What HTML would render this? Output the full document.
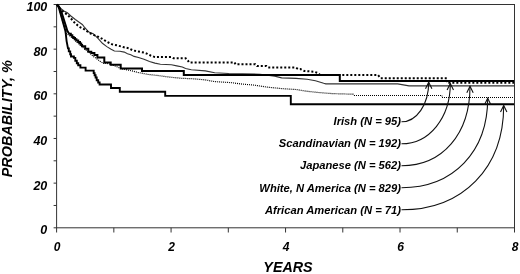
<!DOCTYPE html>
<html><head><meta charset="utf-8"><style>
html,body{margin:0;padding:0;background:#fff;}
svg{display:block;will-change:transform;}
text{font-family:"Liberation Sans",sans-serif;font-weight:bold;font-style:italic;fill:#000;}
</style></head><body>
<svg width="520" height="274" viewBox="0 0 520 274">
<rect x="0" y="0" width="520" height="274" fill="#fff"/>
<g stroke="#333" stroke-width="1" fill="none">
<rect x="56.6" y="4.5" width="457.9" height="223.3"/>
<line x1="53.6" y1="227.80" x2="56.6" y2="227.80"/><line x1="53.6" y1="205.47" x2="56.6" y2="205.47"/><line x1="53.6" y1="183.14" x2="56.6" y2="183.14"/><line x1="53.6" y1="160.81" x2="56.6" y2="160.81"/><line x1="53.6" y1="138.48" x2="56.6" y2="138.48"/><line x1="53.6" y1="116.15" x2="56.6" y2="116.15"/><line x1="53.6" y1="93.82" x2="56.6" y2="93.82"/><line x1="53.6" y1="71.49" x2="56.6" y2="71.49"/><line x1="53.6" y1="49.16" x2="56.6" y2="49.16"/><line x1="53.6" y1="26.83" x2="56.6" y2="26.83"/><line x1="53.6" y1="4.50" x2="56.6" y2="4.50"/><line x1="56.60" y1="227.8" x2="56.60" y2="232.5"/><line x1="113.84" y1="227.8" x2="113.84" y2="232.5"/><line x1="171.07" y1="227.8" x2="171.07" y2="232.5"/><line x1="228.31" y1="227.8" x2="228.31" y2="232.5"/><line x1="285.55" y1="227.8" x2="285.55" y2="232.5"/><line x1="342.79" y1="227.8" x2="342.79" y2="232.5"/><line x1="400.02" y1="227.8" x2="400.02" y2="232.5"/><line x1="457.26" y1="227.8" x2="457.26" y2="232.5"/><line x1="514.50" y1="227.8" x2="514.50" y2="232.5"/>
</g>
<g fill="none" stroke-linejoin="miter">
<polyline points="57.00,4.50 59.00,8.00 61.00,15.00 63.00,22.00 65.00,29.00 66.50,33.50 69.00,35.30 72.00,37.50 76.00,41.50 80.00,45.00 84.00,48.50 88.00,51.50 93.40,56.40 95.00,57.50 100.00,61.20 103.80,63.50 107.00,63.30 110.50,64.30 114.00,65.60 118.90,67.60 122.00,68.90 126.00,69.60 129.70,70.40 138.00,72.40 147.60,74.40 157.20,75.40 166.80,76.80 176.50,77.80 182.00,78.30 193.70,78.80 205.30,79.90 214.70,81.60 231.00,82.60 242.00,84.10 253.90,85.10 267.70,87.20 281.60,88.60 296.00,89.50 305.70,91.10 318.20,92.50 332.10,93.60 353.00,94.20 354.00,95.50" stroke="#000" stroke-width="1.2" stroke-dasharray="1 1"/>
<path d="M354,95.5 H442 M442,95.5 V97.5 M442,97.5 H514" stroke="#000" stroke-width="1" stroke-dasharray="1 1"/>
<polyline points="57.00,4.50 58.50,6.00 60.40,8.20 63.90,11.00 67.40,12.80 70.90,16.00 75.30,19.50 78.80,22.00 82.30,24.50 84.40,27.10 88.80,32.10 93.20,33.70 98.00,38.40 102.40,43.30 106.80,46.60 111.10,49.30 114.40,51.00 119.90,51.30 124.30,52.10 127.50,53.70 130.80,54.80 134.10,56.40 138.50,57.50 144.00,59.30 149.50,61.50 154.90,63.10 160.40,64.20 171.40,64.80 176.80,65.90 182.30,67.00 185.60,68.60 191.30,69.80 205.30,70.90 214.70,72.70 228.70,73.50 260.00,74.20 274.70,76.10 281.60,77.90 296.00,78.40 307.10,79.30 315.40,80.70 323.70,83.30 325.80,83.90 397.70,83.90 409.00,85.90 514.00,85.90" stroke="#333" stroke-width="1.1"/>
<polyline points="57.00,4.50 58.80,7.50 60.60,14.00 62.60,21.00 64.30,27.00 65.40,31.00 65.80,33.80 66.60,41.10 68.00,48.40 68.80,48.40 68.80,51.40 70.20,51.40 70.20,54.30 71.00,54.30 71.00,56.50 73.90,56.50 73.90,57.90 75.30,57.90 75.30,60.80 76.80,60.80 76.80,63.20 78.20,63.20 78.20,65.30 80.40,65.30 80.40,67.60 85.60,67.60 85.60,70.60 92.60,70.60 92.60,70.60 93.70,70.60 93.70,73.10 94.60,73.10 94.60,75.30 95.60,75.30 95.60,77.50 96.70,77.50 96.70,80.30 98.20,80.30 98.20,82.50 99.60,82.50 99.60,84.50 111.00,84.50 111.00,88.00 119.80,88.00 119.80,91.80 165.20,91.80 165.20,95.90 290.80,95.90 290.80,104.20 514.00,104.20 514.00,104.20" stroke="#000" stroke-width="1.9"/>
<polyline points="57.00,4.50 59.00,6.50 61.80,13.00 64.30,21.00 66.20,27.00 67.20,30.50 68.20,32.30 69.30,33.80 70.80,33.80 70.80,35.30 72.30,35.30 72.30,36.90 73.70,36.90 73.70,38.10 75.00,38.10 75.00,39.20 76.40,39.20 76.40,40.40 78.20,40.40 78.20,41.90 80.00,41.90 80.00,43.50 81.20,43.50 81.20,45.00 82.10,45.00 82.10,46.20 85.20,46.20 85.20,48.80 88.30,48.80 88.30,51.80 91.30,51.80 91.30,52.90 94.40,52.90 94.40,54.90 97.40,54.90 97.40,57.60 104.30,57.60 104.30,62.40 110.70,62.40 110.70,64.80 120.70,64.80 120.70,68.40 142.00,68.40 142.00,70.90 183.80,70.90 183.80,75.00 339.80,75.00 339.80,81.00 514.00,81.00 514.00,81.00" stroke="#000" stroke-width="2"/>
<polyline points="57.00,4.50 61.00,10.00 64.00,12.50 67.10,14.50 70.30,17.70 74.20,22.20 77.90,25.60 80.00,27.10 84.40,29.30 88.80,32.60 93.20,34.80 98.00,36.70 102.40,38.90 106.80,41.70 112.20,44.40 117.70,45.50 123.20,47.10 128.60,48.20 133.00,50.40 138.50,51.50 144.00,52.60 147.30,53.80 150.60,55.50 154.90,57.10 171.40,57.10 173.50,58.20 185.60,58.20 187.80,60.40 189.00,62.40 234.50,62.40 235.50,64.30 255.30,64.30 257.00,66.00 266.40,66.00 268.00,67.40 295.50,67.40 298.30,69.00 300.20,69.00 304.30,71.00 314.00,71.70 318.20,73.10 320.00,75.00 378.00,75.00 380.50,78.20 446.80,78.20 447.00,82.80 514.00,82.80" stroke="#000" stroke-width="2" stroke-dasharray="2 2"/>
</g>
<g fill="none" stroke="#111" stroke-width="1.1">
<path d="M401.5,121.8 C416.73,121.8 428.7,104.38 428.7,82.2"/><path d="M425.5,88.7 L428.7,82.2 L431.9,88.7"/><path d="M401.5,143.8 C429.32,143.8 450.3,117.91 450.3,83.6"/><path d="M447.1,90.1 L450.3,83.6 L453.5,90.1"/><path d="M401.5,165.8 C442.60,165.8 470,134.00 470,86.3"/><path d="M466.8,92.8 L470,86.3 L473.2,92.8"/><path d="M401.5,187.7 C453.22,187.7 487.7,151.94 487.7,98.3"/><path d="M484.5,104.8 L487.7,98.3 L490.9,104.8"/><path d="M401.5,209.8 C462.82,209.8 503.7,168.04 503.7,105.4"/><path d="M500.5,111.9 L503.7,105.4 L506.9,111.9"/>
</g>
<g font-size="12">
<text x="47.3" font-size="12.5" y="234.40" text-anchor="end">0</text><text x="47.3" font-size="12.5" y="189.74" text-anchor="end">20</text><text x="47.3" font-size="12.5" y="145.08" text-anchor="end">40</text><text x="47.3" font-size="12.5" y="100.42" text-anchor="end">60</text><text x="47.3" font-size="12.5" y="55.76" text-anchor="end">80</text><text x="47.3" font-size="12.5" y="11.10" text-anchor="end">100</text>
<text x="57.10" y="250.9" text-anchor="middle">0</text><text x="171.57" y="250.9" text-anchor="middle">2</text><text x="286.05" y="250.9" text-anchor="middle">4</text><text x="400.52" y="250.9" text-anchor="middle">6</text><text x="515.00" y="250.9" text-anchor="middle">8</text>
</g>
<text x="288" y="272.4" font-size="14.3" text-anchor="middle">YEARS</text>
<text transform="translate(12.3,118.8) rotate(-90)" font-size="14.4" text-anchor="middle">PROBABILITY, %</text>
<g font-size="11.2">
<text x="401" y="125.1" text-anchor="end">Irish (N = 95)</text><text x="401" y="147.1" text-anchor="end">Scandinavian (N = 192)</text><text x="401" y="169.3" text-anchor="end">Japanese (N = 562)</text><text x="401" y="191.7" text-anchor="end">White, N America (N = 829)</text><text x="401" y="213.7" text-anchor="end">African American (N = 71)</text>
</g>
</svg>
</body></html>
